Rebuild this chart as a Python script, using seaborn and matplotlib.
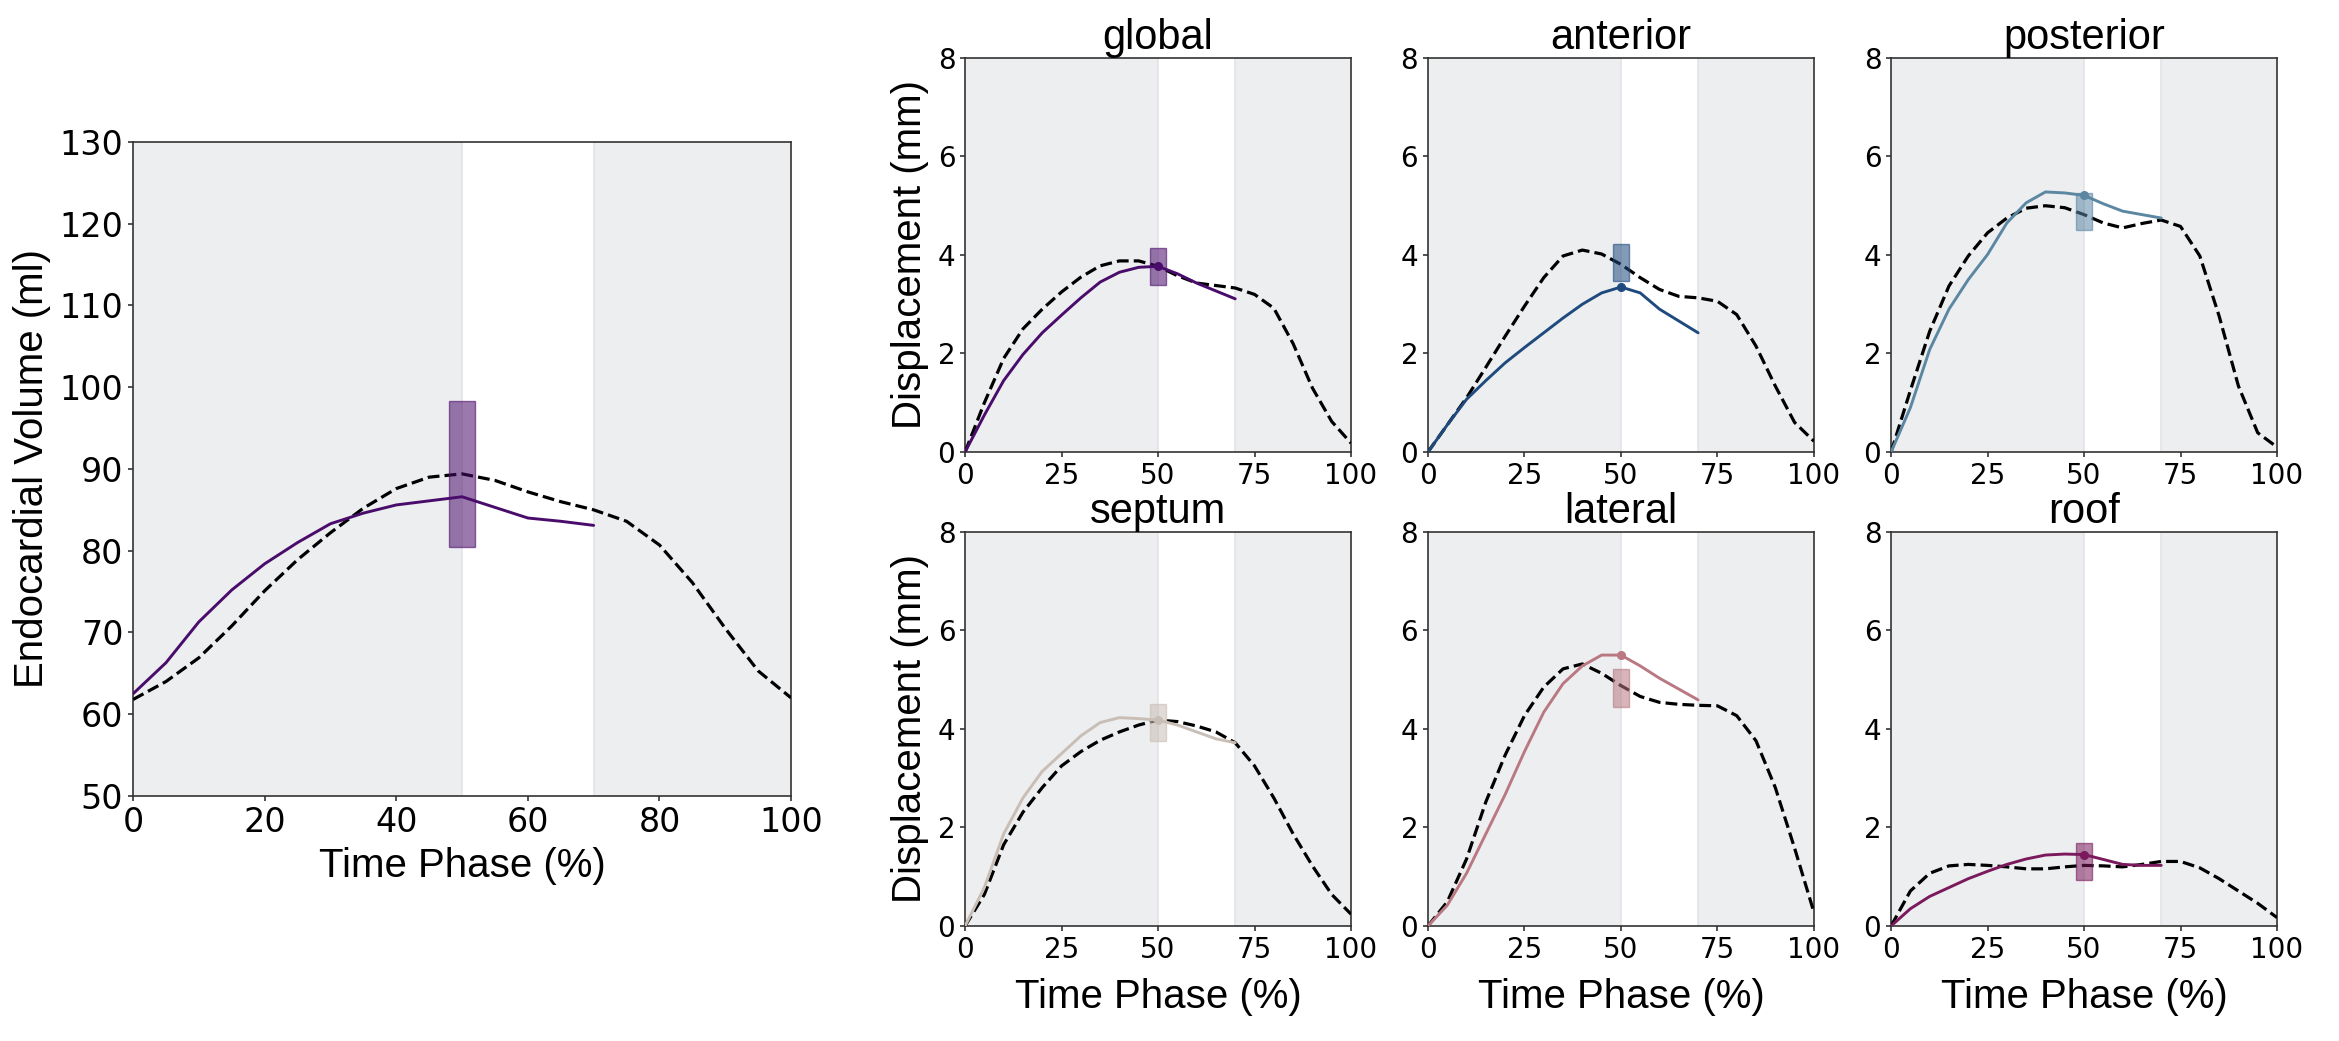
import numpy as np
import matplotlib
matplotlib.use("Agg")
import matplotlib.pyplot as plt
import seaborn as sns
from matplotlib.colors import to_rgba

# ---- data ----
phase_full = [0, 5, 10, 15, 20, 25, 30, 35, 40, 45, 50, 55, 60, 65, 70, 75, 80, 85, 90, 95, 100]
phase_pat = [0, 5, 10, 15, 20, 25, 30, 35, 40, 45, 50, 55, 60, 65, 70]

# endocardial volume (ml)
vol_ref = [61.8, 64.0, 66.9, 70.8, 75.1, 78.9, 82.2, 85.2, 87.6, 89.0, 89.4, 88.6, 87.2, 86.0, 85.0,
           83.6, 80.7, 76.1, 70.5, 65.3, 62.0]
vol_pat = [62.5, 66.3, 71.3, 75.2, 78.4, 81.0, 83.3, 84.6, 85.6, 86.1, 86.6, 85.3, 84.0, 83.6, 83.1]
vol_box = [80.4, 98.3]

# displacement (mm) per region
regions = ["global", "anterior", "posterior", "septum", "lateral", "roof"]
colors = ["#4a0c6b", "#1f4a7e", "#5b87a3", "#c8beb5", "#b97882", "#7a1a5c"]

global_ref = [0, 1.0, 1.9, 2.5, 2.9, 3.25, 3.55, 3.78, 3.88, 3.88, 3.77, 3.58, 3.43, 3.38, 3.33,
              3.2, 2.92, 2.2, 1.3, 0.62, 0.18]
global_pat = [0, 0.75, 1.45, 1.98, 2.42, 2.78, 3.13, 3.45, 3.65, 3.75, 3.77, 3.62, 3.43, 3.27, 3.11]
global_box = [3.40, 4.14]

anterior_ref = [0, 0.55, 1.1, 1.72, 2.35, 2.96, 3.54, 3.98, 4.1, 4.02, 3.81, 3.54, 3.3, 3.16, 3.13,
                3.06, 2.79, 2.15, 1.34, 0.6, 0.22]
anterior_pat = [0, 0.55, 1.07, 1.45, 1.81, 2.12, 2.42, 2.72, 3.0, 3.23, 3.35, 3.23, 2.9, 2.66, 2.42]
anterior_box = [3.48, 4.22]

posterior_ref = [0, 1.25, 2.45, 3.37, 3.98, 4.45, 4.75, 4.95, 5.0, 4.96, 4.82, 4.65, 4.55, 4.64, 4.71,
                 4.58, 3.98, 2.76, 1.34, 0.39, 0.1]
posterior_pat = [0, 0.9, 2.08, 2.9, 3.5, 4.01, 4.65, 5.06, 5.28, 5.26, 5.21, 5.04, 4.89, 4.82, 4.75]
posterior_box = [4.50, 5.26]

septum_ref = [0, 0.64, 1.65, 2.31, 2.81, 3.25, 3.54, 3.77, 3.94, 4.08, 4.18, 4.15, 4.06, 3.94, 3.72,
              3.25, 2.6, 1.87, 1.22, 0.64, 0.24]
septum_pat = [0, 0.78, 1.87, 2.6, 3.14, 3.5, 3.86, 4.13, 4.23, 4.21, 4.18, 4.08, 3.94, 3.8, 3.72]
septum_box = [3.76, 4.50]

lateral_ref = [0, 0.49, 1.36, 2.52, 3.47, 4.27, 4.85, 5.22, 5.32, 5.13, 4.88, 4.66, 4.54, 4.5, 4.48,
               4.47, 4.27, 3.76, 2.81, 1.58, 0.28]
lateral_pat = [0, 0.42, 1.07, 1.87, 2.67, 3.54, 4.34, 4.92, 5.28, 5.5, 5.5, 5.28, 5.03, 4.81, 4.59]
lateral_box = [4.45, 5.21]

roof_ref = [0, 0.71, 1.07, 1.22, 1.25, 1.23, 1.2, 1.16, 1.16, 1.2, 1.23, 1.22, 1.2, 1.25, 1.31,
            1.31, 1.18, 0.96, 0.71, 0.46, 0.17]
roof_pat = [0, 0.35, 0.6, 0.78, 0.96, 1.11, 1.25, 1.36, 1.44, 1.46, 1.45, 1.35, 1.25, 1.23, 1.23]
roof_box = [0.94, 1.69]

refs = [global_ref, anterior_ref, posterior_ref, septum_ref, lateral_ref, roof_ref]
pats = [global_pat, anterior_pat, posterior_pat, septum_pat, lateral_pat, roof_pat]
boxes = [global_box, anterior_box, posterior_box, septum_box, lateral_box, roof_box]

SHADE = "#edeef0"
LABEL_FONT = "Liberation Sans"

sns.set_style("ticks", {"axes.edgecolor": "#333333", "xtick.color": "#333333", "ytick.color": "#333333"})
plt.rcParams["font.family"] = ["DejaVu Sans"]
plt.rcParams["text.color"] = "black"
plt.rcParams["axes.labelcolor"] = "black"
plt.rcParams["axes.linewidth"] = 1.2
plt.rcParams["xtick.major.width"] = 1.2
plt.rcParams["ytick.major.width"] = 1.2
plt.rcParams["xtick.labelcolor"] = "black"
plt.rcParams["ytick.labelcolor"] = "black"


def shade(ax):
    ax.axvspan(0, 50, color=SHADE, lw=0, zorder=0)
    ax.axvspan(70, 100, color=SHADE, lw=0, zorder=0)
    ax.axvline(50, color="#e2e4e8", lw=1.2, zorder=0.5)
    ax.axvline(70, color="#e2e4e8", lw=1.2, zorder=0.5)


def draw_panel(ax, ref, pat, box, color, dot=True):
    shade(ax)
    sns.lineplot(x=phase_full, y=ref, ax=ax, color="black", linestyle="--", lw=2.3, zorder=3)
    sns.lineplot(x=phase_pat, y=pat, ax=ax, color=color, lw=2.1, zorder=4)
    ax.bar(50, box[1] - box[0], bottom=box[0], width=4,
           facecolor=to_rgba(color, 0.55), edgecolor=to_rgba(color, 0.6), lw=1.0, zorder=5)
    if dot:
        i = phase_pat.index(50)
        ax.plot([50], [pat[i]], "o", color=color, ms=5.5, zorder=6)


fig = plt.figure(figsize=(23.39, 10.41), dpi=100)

# left panel: endocardial volume
ax0 = fig.add_axes([0.0569, 0.2354, 0.2813, 0.6282])
draw_panel(ax0, vol_ref, vol_pat, vol_box, colors[0], dot=False)
ax0.set_xlim(0, 100)
ax0.set_ylim(50, 130)
ax0.set_xticks([0, 20, 40, 60, 80, 100])
ax0.set_yticks(np.arange(50, 131, 10))
ax0.tick_params(labelsize=24)
ax0.set_xlabel("Time Phase (%)", fontsize=29, fontfamily=LABEL_FONT, labelpad=6)
ax0.set_ylabel("Endocardial Volume (ml)", fontsize=29, fontfamily=LABEL_FONT, labelpad=6)

# right grid: displacement by region
lefts = [0.4126, 0.6105, 0.8085]
bottoms = [0.5658, 0.1105]
for k, name in enumerate(regions):
    r, c = divmod(k, 3)
    ax = fig.add_axes([lefts[c], bottoms[r], 0.1650, 0.3785])
    draw_panel(ax, refs[k], pats[k], boxes[k], colors[k])
    ax.set_xlim(0, 100)
    ax.set_ylim(0, 8)
    ax.set_xticks([0, 25, 50, 75, 100])
    ax.set_yticks([0, 2, 4, 6, 8])
    ax.tick_params(labelsize=20)
    ax.set_title(name, fontsize=30, fontfamily=LABEL_FONT, pad=3)
    if c == 0:
        ax.set_ylabel("Displacement (mm)", fontsize=29, fontfamily=LABEL_FONT, labelpad=6)
    else:
        ax.set_ylabel("")
    if r == 1:
        ax.set_xlabel("Time Phase (%)", fontsize=29, fontfamily=LABEL_FONT, labelpad=10)
    else:
        ax.set_xlabel("")

fig.savefig("out.png", dpi=100)
